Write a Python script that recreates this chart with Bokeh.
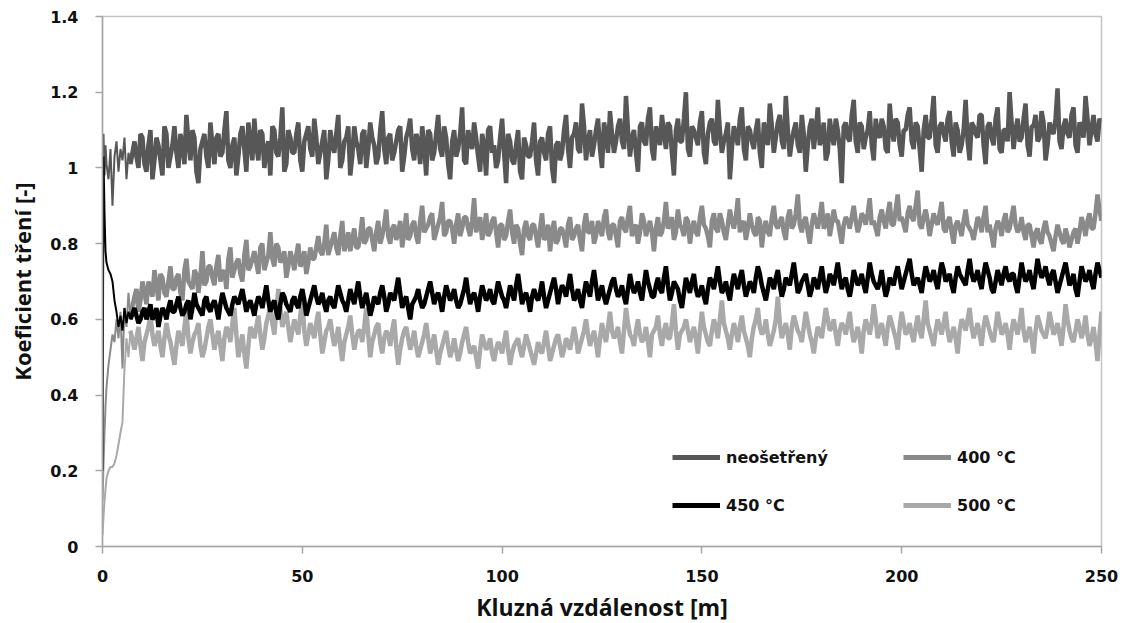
import numpy as np
from bokeh.plotting import figure
from bokeh.models import FixedTicker, Legend, LegendItem, Range1d
from bokeh.embed import file_html
from bokeh.resources import INLINE

# ---- data (coefficient of friction vs. sliding distance [m]) ----
dist_start = [0, 0.25, 0.5, 0.75, 1, 1.5, 2, 2.5, 3, 3.5, 4, 4.5, 5, 5.5, 6, 6.5, 7]
dist_main = list(range(8, 251))                 # whole metres 8 .. 250
dist_half = [d + 0.5 for d in range(8, 250)]    # half metres 8.5 .. 249.5

series_names = ["neošetřený", "400 °C", "450 °C", "500 °C"]
series_colors = ["#575757", "#8a8a8a", "#000000", "#a9a9a9"]

untreated_start = [1.02, 1.09, 0.98, 1.06, 1.01, 0.97, 1.05, 0.90, 1.03, 1.07, 0.99, 1.05, 1.02, 1.08, 0.97, 1.04, 1.01]
untreated_main = [
    1.07, 1.00, 1.08, 0.99, 1.10, 1.02, 1.06, 0.98, 1.09, 1.03,
    1.11, 1.00, 1.06, 1.14, 1.02, 1.08, 0.96, 1.07, 1.03, 1.12,
    1.01, 1.09, 1.04, 1.15, 1.00, 1.08, 1.03, 1.11, 0.99, 1.07,
    1.13, 1.02, 1.09, 1.05, 0.98, 1.10, 1.03, 1.16, 1.01, 1.08,
    1.04, 1.12, 0.99, 1.09, 1.05, 1.13, 1.01, 1.07, 0.97, 1.10,
    1.04, 1.14, 1.02, 1.08, 0.98, 1.11, 1.05, 1.09, 1.00, 1.12,
    1.06, 1.03, 1.15, 1.01, 1.09, 1.04, 1.10, 0.99, 1.08, 1.13,
    1.02, 1.07, 1.11, 0.98, 1.09, 1.04, 1.14, 1.03, 1.08, 0.97,
    1.10, 1.05, 1.16, 1.01, 1.07, 1.12, 1.03, 1.09, 0.98, 1.11,
    1.06, 1.02, 1.13, 0.96, 1.07, 1.01, 1.10, 0.97, 1.06, 1.03,
    1.12, 0.98, 1.08, 1.02, 1.11, 0.96, 1.07, 1.04, 1.14, 1.00,
    1.09, 1.05, 1.17, 1.02, 1.10, 1.06, 1.13, 1.00, 1.09, 1.15,
    1.04, 1.11, 1.07, 1.19, 1.03, 1.10, 0.99, 1.12, 1.06, 1.16,
    1.02, 1.09, 1.14, 1.05, 1.11, 0.98, 1.13, 1.07, 1.20, 1.03,
    1.10, 1.06, 1.15, 1.01, 1.12, 1.07, 1.18, 1.04, 1.09, 0.97,
    1.11, 1.06, 1.16, 1.02, 1.10, 1.05, 1.13, 1.00, 1.09, 1.17,
    1.04, 1.12, 1.07, 1.19, 1.03, 1.10, 1.06, 1.14, 0.99, 1.11,
    1.05, 1.16, 1.08, 1.02, 1.13, 1.06, 1.10, 0.96, 1.12, 1.07,
    1.18, 1.04, 1.11, 1.08, 1.15, 1.02, 1.09, 1.13, 1.05, 1.17,
    1.07, 1.12, 1.03, 1.10, 1.16, 1.05, 1.11, 0.99, 1.14, 1.08,
    1.19, 1.04, 1.12, 1.07, 1.15, 1.03, 1.10, 1.06, 1.18, 1.02,
    1.11, 1.08, 1.14, 1.01, 1.12, 1.06, 1.16, 1.04, 1.10, 1.20,
    1.05, 1.13, 1.08, 1.17, 1.03, 1.11, 1.07, 1.15, 1.02, 1.12,
    1.09, 1.21, 1.05, 1.13, 1.08, 1.16, 1.04, 1.11, 1.19, 1.06,
    1.14, 1.07, 1.12,
]
untreated_half = [
    1.03, 1.09, 1.01, 1.06, 0.97, 1.08, 1.02, 1.11, 1.00, 1.06,
    1.04, 1.09, 1.01, 1.07, 1.10, 0.99, 1.05, 1.09, 1.00, 1.06,
    1.08, 1.03, 1.10, 1.02, 1.06, 0.98, 1.09, 1.05, 1.12, 1.02,
    1.06, 1.10, 1.00, 1.07, 1.11, 1.04, 1.08, 0.99, 1.10, 1.04,
    1.09, 1.02, 1.07, 1.11, 1.03, 1.08, 1.04, 1.10, 1.02, 1.06,
    1.09, 1.00, 1.07, 1.11, 1.03, 1.07, 1.01, 1.10, 1.05, 1.08,
    1.01, 1.10, 1.05, 1.08, 1.02, 1.07, 1.11, 1.03, 1.10, 1.05,
    1.09, 1.01, 1.06, 1.10, 1.02, 1.09, 1.05, 1.11, 1.01, 1.07,
    1.03, 1.09, 1.02, 1.10, 1.05, 1.08, 0.99, 1.06, 1.10, 1.04,
    1.00, 1.08, 1.04, 1.09, 1.02, 1.06, 0.99, 1.08, 1.03, 1.07,
    1.02, 1.07, 1.04, 1.09, 1.00, 1.06, 1.02, 1.10, 1.05, 1.08,
    1.12, 1.04, 1.11, 1.07, 1.03, 1.10, 1.05, 1.12, 1.04, 1.09,
    1.07, 1.13, 1.05, 1.10, 1.08, 1.04, 1.11, 1.07, 1.13, 1.05,
    1.11, 1.06, 1.09, 1.12, 1.04, 1.10, 1.07, 1.13, 1.05, 1.11,
    1.08, 1.12, 1.04, 1.09, 1.13, 1.06, 1.10, 1.07, 1.12, 1.05,
    1.09, 1.13, 1.05, 1.11, 1.07, 1.10, 1.04, 1.12, 1.06, 1.11,
    1.08, 1.14, 1.05, 1.10, 1.07, 1.12, 1.04, 1.09, 1.06, 1.13,
    1.10, 1.06, 1.12, 1.04, 1.09, 1.13, 1.05, 1.11, 1.08, 1.14,
    1.07, 1.12, 1.05, 1.10, 1.06, 1.13, 1.08, 1.11, 1.04, 1.10,
    1.13, 1.06, 1.10, 1.14, 1.07, 1.12, 1.05, 1.10, 1.08, 1.13,
    1.06, 1.11, 1.09, 1.13, 1.07, 1.12, 1.04, 1.10, 1.07, 1.12,
    1.09, 1.14, 1.06, 1.11, 1.08, 1.13, 1.05, 1.10, 1.07, 1.12,
    1.10, 1.07, 1.13, 1.06, 1.11, 1.14, 1.08, 1.12, 1.06, 1.10,
    1.13, 1.07, 1.11, 1.09, 1.14, 1.06, 1.12, 1.08, 1.13, 1.10,
    1.09, 1.13,
]

t400_start = [0.12, 0.22, 0.30, 0.37, 0.42, 0.48, 0.52, 0.56, 0.54, 0.60, 0.55, 0.62, 0.47, 0.63, 0.58, 0.67, 0.61]
t400_main = [
    0.66, 0.62, 0.70, 0.64, 0.68, 0.73, 0.65, 0.71, 0.66, 0.74,
    0.68, 0.72, 0.65, 0.76, 0.69, 0.73, 0.67, 0.78, 0.70, 0.74,
    0.69, 0.77, 0.72, 0.68, 0.79, 0.73, 0.76, 0.70, 0.81, 0.74,
    0.78, 0.72, 0.80, 0.75, 0.83, 0.74, 0.79, 0.76, 0.71, 0.78,
    0.73, 0.80, 0.75, 0.72, 0.79, 0.76, 0.82, 0.77, 0.85, 0.79,
    0.83, 0.77, 0.86, 0.80, 0.78, 0.84, 0.79, 0.87, 0.81, 0.84,
    0.78, 0.86, 0.82, 0.89, 0.80, 0.85, 0.83, 0.79, 0.88, 0.82,
    0.86, 0.80, 0.90, 0.84, 0.87, 0.81, 0.85, 0.91, 0.83, 0.86,
    0.80, 0.88, 0.84, 0.87, 0.82, 0.92, 0.85, 0.81, 0.88, 0.83,
    0.87, 0.79, 0.85, 0.82, 0.89, 0.80, 0.84, 0.77, 0.86, 0.81,
    0.85, 0.79, 0.88, 0.82, 0.78, 0.86, 0.81, 0.84, 0.79, 0.87,
    0.82, 0.85, 0.78, 0.88, 0.83, 0.80, 0.86, 0.82, 0.89, 0.81,
    0.85, 0.79, 0.87, 0.83, 0.90, 0.84, 0.80, 0.88, 0.82, 0.86,
    0.78, 0.87, 0.83, 0.91, 0.85, 0.81, 0.89, 0.84, 0.87, 0.80,
    0.86, 0.82, 0.90, 0.84, 0.79, 0.88, 0.83, 0.86, 0.81, 0.89,
    0.84, 0.92, 0.85, 0.81, 0.88, 0.83, 0.87, 0.79, 0.86, 0.82,
    0.90, 0.84, 0.87, 0.81, 0.89, 0.85, 0.93, 0.83, 0.87, 0.80,
    0.88, 0.84, 0.91, 0.85, 0.82, 0.89, 0.86, 0.80, 0.87, 0.84,
    0.90, 0.83, 0.88, 0.85, 0.92, 0.86, 0.82, 0.89, 0.84, 0.91,
    0.85, 0.93, 0.87, 0.83, 0.90, 0.86, 0.94, 0.84, 0.89, 0.82,
    0.88, 0.85, 0.91, 0.83, 0.87, 0.80, 0.86, 0.82, 0.89, 0.84,
    0.81, 0.87, 0.83, 0.90, 0.85, 0.79, 0.86, 0.82, 0.88, 0.84,
    0.90, 0.83, 0.87, 0.81, 0.85, 0.79, 0.84, 0.80, 0.86, 0.82,
    0.78, 0.85, 0.81, 0.84, 0.79, 0.83, 0.80, 0.87, 0.82, 0.88,
    0.84, 0.93, 0.86,
]
t400_half = [
    0.68, 0.65, 0.67, 0.70, 0.66, 0.69, 0.72, 0.67, 0.70, 0.68,
    0.71, 0.67, 0.73, 0.70, 0.68, 0.72, 0.71, 0.69, 0.74, 0.71,
    0.74, 0.70, 0.73, 0.76, 0.71, 0.75, 0.72, 0.77, 0.73, 0.76,
    0.75, 0.79, 0.73, 0.77, 0.76, 0.80, 0.75, 0.78, 0.74, 0.76,
    0.77, 0.74, 0.78, 0.75, 0.76, 0.79, 0.78, 0.80, 0.77, 0.81,
    0.79, 0.82, 0.78, 0.83, 0.81, 0.79, 0.82, 0.80, 0.84, 0.81,
    0.83, 0.80, 0.85, 0.82, 0.84, 0.81, 0.86, 0.83, 0.81, 0.85,
    0.82, 0.86, 0.83, 0.85, 0.88, 0.83, 0.87, 0.82, 0.86, 0.84,
    0.85, 0.82, 0.87, 0.84, 0.86, 0.83, 0.87, 0.84, 0.82, 0.86,
    0.83, 0.85, 0.81, 0.86, 0.83, 0.85, 0.80, 0.84, 0.82, 0.85,
    0.82, 0.84, 0.81, 0.85, 0.83, 0.80, 0.84, 0.82, 0.85, 0.81,
    0.84, 0.81, 0.85, 0.83, 0.86, 0.82, 0.84, 0.87, 0.83, 0.85,
    0.82, 0.86, 0.84, 0.87, 0.82, 0.85, 0.83, 0.86, 0.84, 0.83,
    0.84, 0.82, 0.86, 0.84, 0.87, 0.83, 0.85, 0.82, 0.86, 0.84,
    0.83, 0.87, 0.85, 0.82, 0.86, 0.84, 0.88, 0.83, 0.85, 0.86,
    0.87, 0.83, 0.86, 0.84, 0.85, 0.82, 0.86, 0.84, 0.83, 0.87,
    0.85, 0.86, 0.83, 0.87, 0.84, 0.88, 0.85, 0.86, 0.83, 0.85,
    0.86, 0.87, 0.84, 0.88, 0.85, 0.86, 0.83, 0.85, 0.86, 0.87,
    0.86, 0.85, 0.87, 0.88, 0.85, 0.84, 0.87, 0.86, 0.88, 0.85,
    0.89, 0.86, 0.85, 0.88, 0.87, 0.90, 0.85, 0.87, 0.86, 0.85,
    0.86, 0.88, 0.84, 0.86, 0.83, 0.85, 0.84, 0.86, 0.85, 0.83,
    0.84, 0.86, 0.87, 0.83, 0.82, 0.84, 0.85, 0.86, 0.83, 0.87,
    0.85, 0.84, 0.83, 0.85, 0.82, 0.83, 0.81, 0.84, 0.83, 0.80,
    0.82, 0.83, 0.80, 0.82, 0.81, 0.84, 0.83, 0.85, 0.86, 0.84,
    0.88, 0.89,
]

t450_start = [0.20, 1.03, 0.88, 0.78, 0.75, 0.73, 0.72, 0.70, 0.65, 0.62, 0.58, 0.61, 0.57, 0.63, 0.59, 0.62, 0.60]
t450_main = [
    0.63, 0.59, 0.62, 0.60, 0.64, 0.61, 0.58, 0.63, 0.60, 0.65,
    0.62, 0.66, 0.61, 0.64, 0.60, 0.67, 0.63, 0.61, 0.66, 0.62,
    0.65, 0.60, 0.67, 0.63, 0.61, 0.66, 0.64, 0.68, 0.62, 0.65,
    0.61, 0.66, 0.63, 0.69, 0.62, 0.65, 0.60, 0.67, 0.64, 0.62,
    0.66, 0.63, 0.68, 0.61, 0.65, 0.69, 0.64, 0.67, 0.62, 0.66,
    0.63, 0.69, 0.65, 0.62, 0.68, 0.64, 0.70, 0.63, 0.67, 0.61,
    0.66, 0.64, 0.69, 0.62, 0.67, 0.65, 0.71, 0.63, 0.66, 0.60,
    0.65, 0.68, 0.63, 0.66, 0.70, 0.64, 0.67, 0.62, 0.69, 0.65,
    0.68, 0.63, 0.66, 0.71, 0.64, 0.67, 0.62, 0.69, 0.65, 0.68,
    0.64, 0.70, 0.66, 0.63, 0.69, 0.65, 0.72, 0.64, 0.67, 0.62,
    0.68, 0.65, 0.70, 0.63, 0.67, 0.71, 0.64, 0.69, 0.66, 0.72,
    0.65, 0.68, 0.63, 0.70, 0.66, 0.73, 0.65, 0.69, 0.64, 0.68,
    0.71, 0.66, 0.69, 0.64, 0.72, 0.67, 0.70, 0.65, 0.73, 0.68,
    0.66, 0.71, 0.67, 0.74, 0.65, 0.70, 0.68, 0.63, 0.71, 0.67,
    0.72, 0.66, 0.69, 0.64, 0.71, 0.68, 0.74, 0.67, 0.70, 0.65,
    0.72, 0.68, 0.73, 0.66, 0.70, 0.67, 0.74, 0.69, 0.65, 0.71,
    0.68, 0.73, 0.66, 0.71, 0.69, 0.75, 0.67, 0.70, 0.72, 0.66,
    0.71, 0.68, 0.74, 0.67, 0.72, 0.69, 0.75, 0.68, 0.71, 0.66,
    0.73, 0.69, 0.72, 0.67, 0.75, 0.70, 0.68, 0.73, 0.66, 0.71,
    0.69, 0.74, 0.68, 0.72, 0.76, 0.69, 0.71, 0.67, 0.74, 0.70,
    0.73, 0.68, 0.75, 0.70, 0.72, 0.67, 0.74, 0.71, 0.69, 0.76,
    0.70, 0.73, 0.68, 0.75, 0.71, 0.67, 0.73, 0.69, 0.74, 0.70,
    0.72, 0.67, 0.75, 0.70, 0.73, 0.68, 0.76, 0.71, 0.74, 0.69,
    0.73, 0.67, 0.71, 0.75, 0.69, 0.72, 0.66, 0.74, 0.70, 0.73,
    0.68, 0.75, 0.71,
]
t450_half = [
    0.61, 0.60, 0.63, 0.62, 0.60, 0.63, 0.61, 0.62, 0.63, 0.62,
    0.64, 0.63, 0.62, 0.65, 0.63, 0.64, 0.62, 0.65, 0.63, 0.64,
    0.63, 0.64, 0.65, 0.62, 0.64, 0.65, 0.66, 0.65, 0.64, 0.63,
    0.64, 0.65, 0.66, 0.65, 0.64, 0.62, 0.64, 0.66, 0.63, 0.65,
    0.64, 0.66, 0.65, 0.63, 0.67, 0.66, 0.65, 0.64, 0.65, 0.64,
    0.66, 0.67, 0.64, 0.65, 0.66, 0.67, 0.66, 0.65, 0.64, 0.63,
    0.65, 0.67, 0.66, 0.64, 0.66, 0.68, 0.67, 0.65, 0.63, 0.64,
    0.66, 0.65, 0.64, 0.68, 0.67, 0.66, 0.65, 0.66, 0.67, 0.66,
    0.65, 0.64, 0.68, 0.67, 0.66, 0.65, 0.66, 0.67, 0.66, 0.65,
    0.67, 0.68, 0.65, 0.66, 0.67, 0.69, 0.68, 0.66, 0.65, 0.66,
    0.66, 0.67, 0.66, 0.65, 0.69, 0.68, 0.67, 0.68, 0.69, 0.68,
    0.66, 0.65, 0.67, 0.68, 0.70, 0.69, 0.67, 0.66, 0.66, 0.70,
    0.68, 0.67, 0.66, 0.68, 0.69, 0.68, 0.67, 0.69, 0.70, 0.66,
    0.69, 0.68, 0.71, 0.69, 0.67, 0.69, 0.65, 0.67, 0.69, 0.70,
    0.68, 0.67, 0.66, 0.68, 0.70, 0.71, 0.70, 0.68, 0.67, 0.69,
    0.70, 0.71, 0.69, 0.68, 0.69, 0.71, 0.72, 0.67, 0.68, 0.70,
    0.71, 0.69, 0.68, 0.70, 0.72, 0.71, 0.68, 0.71, 0.69, 0.68,
    0.70, 0.71, 0.70, 0.69, 0.71, 0.72, 0.71, 0.70, 0.68, 0.69,
    0.71, 0.70, 0.69, 0.71, 0.72, 0.69, 0.70, 0.69, 0.68, 0.70,
    0.72, 0.71, 0.70, 0.74, 0.72, 0.70, 0.69, 0.71, 0.72, 0.71,
    0.70, 0.72, 0.73, 0.71, 0.69, 0.71, 0.72, 0.70, 0.73, 0.72,
    0.71, 0.70, 0.72, 0.73, 0.68, 0.70, 0.71, 0.72, 0.71, 0.72,
    0.69, 0.71, 0.72, 0.71, 0.70, 0.72, 0.73, 0.72, 0.71, 0.72,
    0.70, 0.69, 0.73, 0.72, 0.70, 0.68, 0.70, 0.72, 0.71, 0.70,
    0.72, 0.73,
]

t500_start = [0.03, 0.08, 0.12, 0.15, 0.18, 0.20, 0.21, 0.21, 0.22, 0.24, 0.27, 0.30, 0.33, 0.47, 0.55, 0.50, 0.57]
t500_main = [
    0.52, 0.58, 0.49, 0.56, 0.61, 0.53, 0.57, 0.50, 0.59, 0.54,
    0.48, 0.57, 0.53, 0.62, 0.51, 0.56, 0.59, 0.50, 0.55, 0.60,
    0.52, 0.57, 0.49, 0.58, 0.54, 0.63, 0.50, 0.56, 0.47, 0.58,
    0.55, 0.61, 0.52, 0.59, 0.64, 0.56, 0.68, 0.58, 0.62, 0.54,
    0.60, 0.56, 0.65, 0.53, 0.59, 0.55, 0.62, 0.51, 0.57, 0.60,
    0.53, 0.58, 0.49, 0.56, 0.61, 0.52, 0.57, 0.54, 0.63, 0.50,
    0.56, 0.59, 0.51, 0.57, 0.53, 0.60, 0.48, 0.55, 0.58, 0.52,
    0.57, 0.50, 0.54, 0.59, 0.51, 0.56, 0.48, 0.53, 0.57, 0.50,
    0.55, 0.49, 0.54, 0.58, 0.51, 0.53, 0.47, 0.56, 0.52, 0.55,
    0.49, 0.54, 0.51, 0.57, 0.48, 0.53, 0.55, 0.50, 0.56, 0.52,
    0.48, 0.54, 0.51, 0.57, 0.49, 0.53, 0.56, 0.50, 0.55, 0.52,
    0.58, 0.51, 0.55, 0.60, 0.53, 0.57, 0.50, 0.59, 0.54, 0.62,
    0.55, 0.58, 0.51, 0.63, 0.56, 0.53, 0.60, 0.54, 0.58, 0.50,
    0.57, 0.61, 0.53, 0.59, 0.55, 0.64, 0.52, 0.57, 0.60, 0.54,
    0.58, 0.51, 0.62, 0.56, 0.53, 0.60, 0.55, 0.65, 0.57, 0.52,
    0.59, 0.54, 0.61, 0.55, 0.50, 0.58, 0.63, 0.56, 0.60, 0.53,
    0.57, 0.66, 0.55, 0.59, 0.52, 0.61, 0.57, 0.54, 0.62, 0.56,
    0.51, 0.58, 0.55, 0.63, 0.57, 0.60, 0.53, 0.59, 0.56, 0.62,
    0.54, 0.58, 0.51, 0.60, 0.56, 0.64, 0.55, 0.59, 0.53, 0.61,
    0.57, 0.52, 0.62, 0.56, 0.59, 0.54, 0.61, 0.55, 0.65, 0.57,
    0.53, 0.60, 0.56, 0.62, 0.54, 0.58, 0.51, 0.60, 0.57, 0.63,
    0.55, 0.59, 0.53, 0.61, 0.57, 0.54, 0.62, 0.56, 0.59, 0.52,
    0.60, 0.56, 0.63, 0.54, 0.58, 0.51, 0.61, 0.57, 0.55, 0.62,
    0.56, 0.59, 0.53, 0.64, 0.57, 0.54, 0.60, 0.55, 0.61, 0.53,
    0.58, 0.49, 0.62,
]
t500_half = [
    0.55, 0.53, 0.54, 0.58, 0.56, 0.55, 0.53, 0.55, 0.56, 0.51,
    0.53, 0.55, 0.58, 0.55, 0.54, 0.57, 0.53, 0.52, 0.58, 0.56,
    0.55, 0.53, 0.55, 0.57, 0.59, 0.56, 0.53, 0.51, 0.53, 0.57,
    0.58, 0.56, 0.55, 0.61, 0.59, 0.62, 0.63, 0.60, 0.58, 0.57,
    0.58, 0.61, 0.57, 0.56, 0.57, 0.59, 0.56, 0.54, 0.58, 0.56,
    0.55, 0.53, 0.54, 0.58, 0.56, 0.55, 0.57, 0.58, 0.56, 0.54,
    0.58, 0.54, 0.55, 0.56, 0.57, 0.53, 0.52, 0.57, 0.55, 0.54,
    0.53, 0.52, 0.56, 0.55, 0.53, 0.52, 0.51, 0.55, 0.53, 0.52,
    0.52, 0.51, 0.56, 0.54, 0.52, 0.50, 0.52, 0.54, 0.53, 0.51,
    0.52, 0.53, 0.54, 0.52, 0.51, 0.54, 0.52, 0.53, 0.54, 0.50,
    0.51, 0.52, 0.54, 0.53, 0.51, 0.55, 0.53, 0.52, 0.54, 0.55,
    0.55, 0.53, 0.57, 0.56, 0.55, 0.54, 0.55, 0.56, 0.58, 0.57,
    0.56, 0.54, 0.57, 0.59, 0.55, 0.57, 0.56, 0.55, 0.54, 0.56,
    0.58, 0.56, 0.57, 0.55, 0.59, 0.57, 0.56, 0.58, 0.57, 0.56,
    0.55, 0.57, 0.58, 0.54, 0.57, 0.58, 0.60, 0.59, 0.55, 0.56,
    0.57, 0.58, 0.57, 0.53, 0.55, 0.60, 0.58, 0.57, 0.56, 0.55,
    0.60, 0.59, 0.57, 0.56, 0.58, 0.59, 0.56, 0.58, 0.59, 0.54,
    0.55, 0.57, 0.59, 0.60, 0.58, 0.56, 0.57, 0.58, 0.59, 0.57,
    0.56, 0.55, 0.57, 0.58, 0.59, 0.60, 0.57, 0.56, 0.58, 0.59,
    0.55, 0.58, 0.59, 0.57, 0.56, 0.58, 0.57, 0.60, 0.59, 0.55,
    0.57, 0.58, 0.59, 0.57, 0.56, 0.55, 0.57, 0.59, 0.60, 0.58,
    0.57, 0.56, 0.58, 0.59, 0.55, 0.58, 0.59, 0.57, 0.56, 0.57,
    0.58, 0.59, 0.57, 0.56, 0.55, 0.57, 0.59, 0.56, 0.58, 0.59,
    0.57, 0.56, 0.58, 0.60, 0.55, 0.57, 0.58, 0.57, 0.56, 0.55,
    0.54, 0.56,
]

y_ticks = [0, 0.2, 0.4, 0.6, 0.8, 1.0, 1.2, 1.4]
y_tick_labels = ["0", "0.2", "0.4", "0.6", "0.8", "1", "1.2", "1.4"]
x_ticks = [0, 50, 100, 150, 200, 250]


def merge(start, main, half):
    pts = sorted(list(zip(dist_main, main)) + list(zip(dist_half, half)))
    xs = dist_start + [p_[0] for p_ in pts]
    ys = start + [p_[1] for p_ in pts]
    return xs, ys


series_data = [
    merge(untreated_start, untreated_main, untreated_half),
    merge(t400_start, t400_main, t400_half),
    merge(t450_start, t450_main, t450_half),
    merge(t500_start, t500_main, t500_half),
]
n_start = len(dist_start)

# ---- figure ----
p = figure(
    frame_width=999, frame_height=530,
    x_range=Range1d(0, 250), y_range=Range1d(0, 1.4),
    output_backend="svg", toolbar_location=None,
    min_border_left=102, min_border_right=20, min_border_top=16, min_border_bottom=72,
    background_fill_color="white", border_fill_color="white",
)
p.xgrid.visible = False
p.ygrid.visible = False
p.outline_line_color = "#c4c4c4"
p.outline_line_width = 1.5

axis_col = "#a6a6a6"
for ax in (p.xaxis[0], p.yaxis[0]):
    ax.axis_line_color = axis_col
    ax.axis_line_width = 1.5
    ax.major_tick_line_color = axis_col
    ax.major_tick_line_width = 1.5
    ax.major_tick_in = 0
    ax.major_tick_out = 7
    ax.minor_tick_line_color = None
    ax.major_label_text_font = "DejaVu Sans"
    ax.major_label_text_font_style = "bold"
    ax.major_label_text_font_size = "16px"
    ax.major_label_text_color = "#111111"
    ax.axis_label_text_font = "Open Sans"
    ax.axis_label_text_font_style = "bold"
    ax.axis_label_text_color = "#111111"

p.yaxis.ticker = FixedTicker(ticks=y_ticks)
p.yaxis.major_label_overrides = {t: l for t, l in zip(y_ticks, y_tick_labels)}
p.xaxis.ticker = FixedTicker(ticks=x_ticks)
p.yaxis.axis_label = "Koeficient tření [-]"
p.xaxis.axis_label = "Kluzná vzdálenost [m]"
p.yaxis.axis_label_text_font_size = "22px"
p.xaxis.axis_label_text_font_size = "23px"
p.yaxis.major_label_standoff = 17
p.xaxis.major_label_standoff = 16
p.yaxis.axis_label_standoff = 10
p.xaxis.axis_label_standoff = 6

# run-in part drawn thin, steady noisy part drawn heavy (dense signal band)
for idx in [0, 1, 3, 2]:
    xs, ys = series_data[idx]
    p.line(xs[:n_start + 1], ys[:n_start + 1], line_color=series_colors[idx], line_width=2)
    p.line(xs[n_start - 1:], ys[n_start - 1:], line_color=series_colors[idx], line_width=4.5)

# legend swatches: thicker than the data lines, carrying no visible data
swatches = [p.line(np.array([np.nan]), np.array([np.nan]), line_color=c, line_width=5) for c in series_colors]
order = [0, 2, 1, 3]   # column-major fill -> rows: (neošetřený, 400), (450, 500)
legend = Legend(
    items=[LegendItem(label=series_names[i], renderers=[swatches[i]]) for i in order],
    ncols=2,
    location=(570, 31),
    glyph_width=48, glyph_height=20,
    label_height=20, label_width=149,
    label_standoff=6, spacing=28,
    padding=0, margin=0,
    border_line_color=None, background_fill_alpha=0,
    label_text_font="DejaVu Sans", label_text_font_style="bold",
    label_text_font_size="16px", label_text_color="#111111",
)
p.add_layout(legend, "center")

open("out.html", "w").write(file_html(p, INLINE))
